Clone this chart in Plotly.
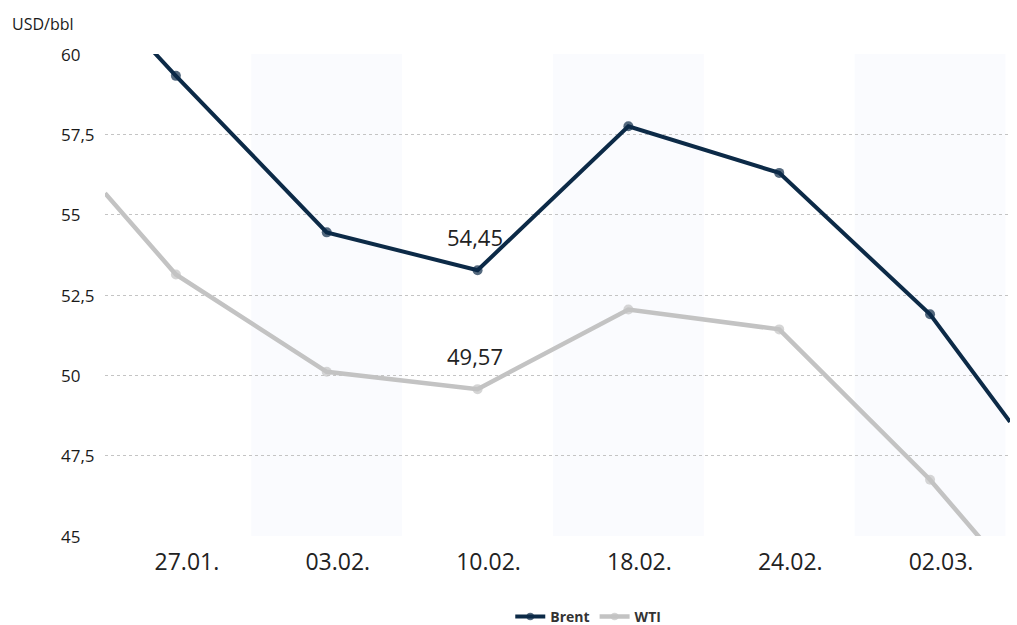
import plotly.graph_objects as go

# ---- data ----
dates = ["27.01.", "03.02.", "10.02.", "18.02.", "24.02.", "02.03."]
brent = [59.32, 54.45, 53.27, 57.75, 56.30, 51.90]
wti = [53.14, 50.11, 49.57, 52.05, 51.43, 46.75]
# values where the lines leave the plot at the left / right edges
brent_edges = [61.7, 48.55]
wti_edges = [55.67, 43.85]
y_ticks = [45, 47.5, 50, 52.5, 55, 57.5, 60]
y_tick_labels = ["45", "47,5", "50", "52,5", "55", "57,5", "60"]
label_texts = ["54,45", "49,57"]
label_index = 2  # labels sit above the 10.02. points
unit = "USD/bbl"

X_MIN, X_MAX = -0.47, 5.53
idx = list(range(len(dates)))
x_full = [X_MIN] + idx + [X_MAX]

BRENT_C = "#0c2a47"
WTI_C = "#c3c3c3"
FONT = "Open Sans"

fig = go.Figure()

fig.add_trace(go.Scatter(
    x=x_full, y=[brent_edges[0]] + brent + [brent_edges[1]],
    mode="lines+markers", name="Brent",
    line=dict(color=BRENT_C, width=4),
    marker=dict(size=[0] + [10] * len(dates) + [0], color=BRENT_C,
                line=dict(width=0)),
    cliponaxis=True,
))
fig.add_trace(go.Scatter(
    x=x_full, y=[wti_edges[0]] + wti + [wti_edges[1]],
    mode="lines+markers", name="WTI",
    line=dict(color=WTI_C, width=4.5),
    marker=dict(size=[0] + [10] * len(dates) + [0], color=WTI_C,
                line=dict(width=0)),
    cliponaxis=True,
))

# alternating background bands
shapes = []
for i in idx:
    if i % 2 == 1:
        shapes.append(dict(type="rect", xref="x", yref="paper",
                           x0=i - 0.5, x1=i + 0.5, y0=0, y1=1,
                           fillcolor="#fafbfe", line=dict(width=0),
                           layer="below"))

annotations = []
# left-aligned y tick labels
for v, t in zip(y_ticks, y_tick_labels):
    annotations.append(dict(x=-0.051, xref="paper", y=v, yref="y",
                            text=t, showarrow=False, xanchor="left",
                            yanchor="middle",
                            font=dict(family=FONT, size=17, color="#1a1a1a")))
# unit label
annotations.append(dict(x=-0.105, xref="paper", y=1.063, yref="paper",
                        text=unit, showarrow=False, xanchor="left",
                        yanchor="middle",
                        font=dict(family=FONT, size=16, color="#1a1a1a")))
# data labels
for series, txt in zip([brent, wti], label_texts):
    annotations.append(dict(x=label_index, y=series[label_index],
                            xref="x", yref="y", text=txt, showarrow=False,
                            xanchor="center", yanchor="middle",
                            xshift=-3, yshift=33,
                            font=dict(family=FONT, size=22, color="#222")))

fig.update_layout(
    width=1017, height=625,
    margin=dict(l=105, r=7, t=54, b=89, autoexpand=False),
    plot_bgcolor="white", paper_bgcolor="white",
    shapes=shapes, annotations=annotations,
    showlegend=True,
    legend=dict(orientation="h", x=0.534, y=-0.168, xanchor="center",
                yanchor="middle",
                font=dict(family=FONT, size=14, color="#333", weight="bold"),
                itemwidth=30),
    xaxis=dict(range=[X_MIN, X_MAX], tickvals=idx, ticktext=dates,
               showgrid=False, zeroline=False, showline=False,
               automargin=False,
               ticks="", ticklabelshift=11, ticklabelstandoff=10,
               tickfont=dict(family=FONT, size=23, color="#222")),
    yaxis=dict(range=[45, 60], tickvals=y_ticks, showticklabels=False,
               automargin=False,
               showgrid=True, gridcolor="#c4c4c4", griddash="dot",
               gridwidth=1, zeroline=False, showline=False, ticks=""),
)

fig.write_html(
    "out.html",
    config={"displayModeBar": False},
    post_script="document.body.style.margin='0';"
                "document.body.style.overflow='hidden';",
)
